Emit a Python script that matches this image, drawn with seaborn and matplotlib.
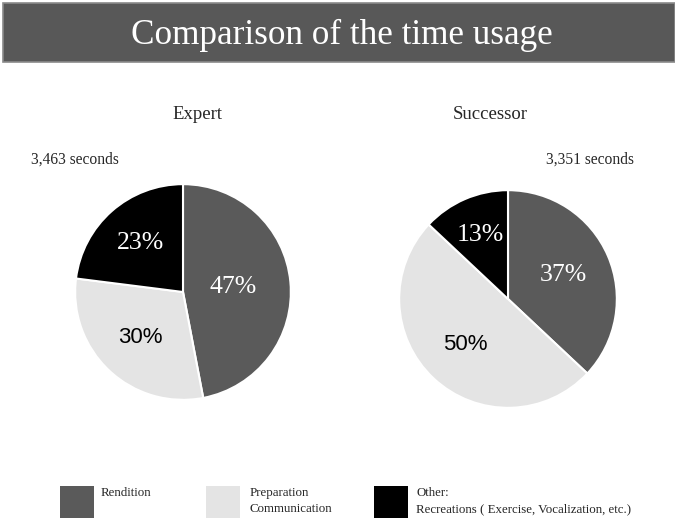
import matplotlib
matplotlib.use("Agg")
import matplotlib.pyplot as plt
from matplotlib.patches import Rectangle
import numpy as np
import seaborn as sns

# ---- data ----
categories = ["Rendition", "Preparation\nCommunication", "Other:\nRecreations ( Exercise, Vocalization, etc.)"]
groups = ["Expert", "Successor"]
expert_pct = [47, 30, 23]
successor_pct = [37, 50, 13]
total_labels = ["3,463 seconds", "3,351 seconds"]
title = "Comparison of the time usage"

# ---- style ----
sns.set_theme(style="white")
plt.rcParams["font.family"] = ["Liberation Serif", "DejaVu Serif"]
colors = ["#5a5a5a", "#e4e4e4", "#000000"]
pct_colors = ["white", "black", "white"]
pct_fonts = [["Liberation Serif"], ["Liberation Sans"], ["Liberation Serif"]]
pct_sizes = [18.5, 16, 18.5]

W, H = 675, 522
fig = plt.figure(figsize=(W / 100, H / 100), dpi=100)
fig.patch.set_facecolor("white")

# title banner
fig.add_artist(Rectangle((3 / W, 1 - 62 / H), 672 / W, 59 / H, transform=fig.transFigure,
                         facecolor="#585858", edgecolor="#8a8a8a", lw=1.2))
fig.text(342 / W, 1 - 35 / H, title, color="white", fontsize=25.3, ha="center", va="center")

def pie_axes(cx, cy, r):
    return fig.add_axes([(cx - r) / W, (H - cy - r) / H, 2 * r / W, 2 * r / H])

specs = [
    dict(vals=expert_pct, cx=183, cy=292, r=110, pctd=[0.47, 0.58, 0.6], title_xy=(197, 114),
         tot_xy=(31, 160), ha="left"),
    dict(vals=successor_pct, cx=508, cy=299, r=111, pctd=[0.55, 0.57, 0.64], title_xy=(490, 114),
         tot_xy=(634, 160), ha="right"),
]

for g, s, tot in zip(groups, specs, total_labels):
    ax = pie_axes(s["cx"], s["cy"], s["r"])
    wedges, texts = ax.pie(s["vals"], colors=colors, startangle=90, counterclock=False,
                           radius=1, wedgeprops=dict(edgecolor="white", linewidth=1.5))
    for i, (w, v) in enumerate(zip(wedges, s["vals"])):
        ang = np.deg2rad((w.theta1 + w.theta2) / 2)
        d = s["pctd"][i]
        ax.text(d * np.cos(ang), d * np.sin(ang), f"{v}%", ha="center", va="center",
                color=pct_colors[i], fontsize=pct_sizes[i], family=pct_fonts[i])
    ax.set_xlim(-1.02, 1.02)
    ax.set_ylim(-1.02, 1.02)
    ax.set_aspect("equal")
    ax.axis("off")
    fig.text(s["title_xy"][0] / W, 1 - s["title_xy"][1] / H, g, fontsize=13.5, ha="center", va="center")
    fig.text(s["tot_xy"][0] / W, 1 - s["tot_xy"][1] / H, tot, fontsize=11.2, ha=s["ha"], va="center")

# legend
leg_boxes = [(60, 486), (206, 486), (374, 486)]
leg_text_x = [101, 250, 416]
for c, lab, (bx, by), tx in zip(colors, categories, leg_boxes, leg_text_x):
    fig.add_artist(Rectangle((bx / W, 1 - (by + 32) / H), 34 / W, 32 / H, transform=fig.transFigure,
                             facecolor=c, edgecolor="none"))
    fig.text(tx / W, 1 - (by + 1) / H, lab, fontsize=9.3, ha="left", va="top", linespacing=1.45)

fig.savefig("out.png", dpi=100)
